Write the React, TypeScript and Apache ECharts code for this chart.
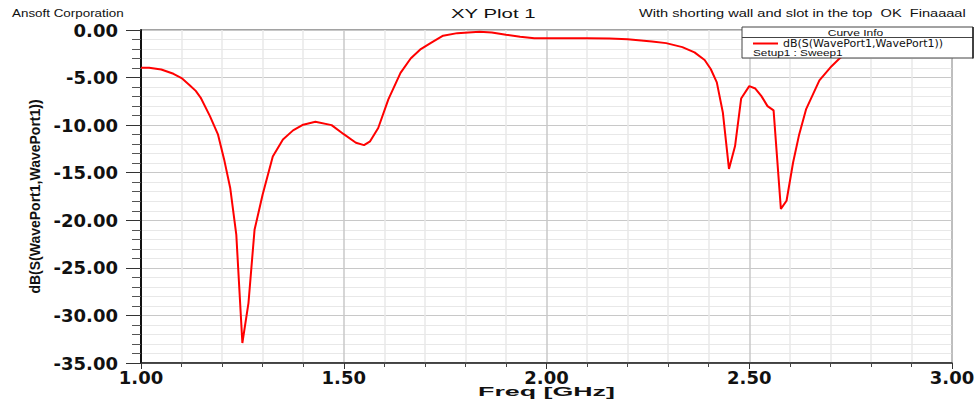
import React, { useEffect, useRef } from "react";
import * as echarts from "echarts";

// Frequency sweep points (GHz) and return loss (dB)
const freqGHz = [
  1.0, 1.02, 1.05, 1.08, 1.1, 1.12, 1.135, 1.147, 1.17, 1.19, 1.205, 1.22, 1.235,
  1.25, 1.265, 1.28, 1.3, 1.325, 1.35, 1.375, 1.4, 1.43, 1.47, 1.5, 1.53, 1.55,
  1.565, 1.585, 1.61, 1.64, 1.665, 1.69, 1.715, 1.745, 1.78, 1.835, 1.865, 1.9,
  1.935, 1.97, 2.02, 2.1, 2.155, 2.2, 2.26, 2.295, 2.335, 2.365, 2.39, 2.405,
  2.42, 2.435, 2.45, 2.465, 2.48, 2.5, 2.515, 2.53, 2.545, 2.56, 2.578, 2.592,
  2.608, 2.623, 2.64, 2.673, 2.703, 2.725, 2.75, 2.8, 2.85, 2.9, 2.95, 3.0,
];
const s11dB = [
  -3.97, -3.97, -4.15, -4.6, -5.05, -5.8, -6.4, -7.1, -9.05, -11.0, -13.6, -16.6,
  -21.5, -32.9, -28.7, -21.0, -17.3, -13.3, -11.5, -10.55, -9.95, -9.65, -10.0,
  -10.95, -11.85, -12.1, -11.7, -10.3, -7.3, -4.5, -3.0, -2.0, -1.35, -0.6,
  -0.33, -0.19, -0.26, -0.5, -0.71, -0.86, -0.86, -0.86, -0.89, -0.96, -1.2,
  -1.38, -1.8, -2.35, -3.15, -4.1, -5.5, -8.7, -14.6, -12.2, -7.2, -5.9, -6.15,
  -6.95, -8.0, -8.45, -18.8, -17.95, -13.95, -11.0, -8.35, -5.3, -3.8, -2.9,
  -2.2, -1.5, -1.1, -0.9, -0.8, -0.8,
];

const seriesName = "dB(S(WavePort1,WavePort1))";
const plotTitle = "XY Plot 1";
const companyText = "Ansoft Corporation";
const noteText = "With shorting wall and slot in the top  OK  Finaaaal";
const xAxisName = "Freq [GHz]";
const legendHeader = "Curve Info";
const legendSetup = "Setup1 : Sweep1";

const SANS = "Liberation Sans";

export default function App() {
  const ref = useRef<HTMLDivElement>(null);

  useEffect(() => {
    if (!ref.current) return;
    const chart = echarts.init(ref.current, null, { renderer: "svg" });

    const txt = (
      text: string,
      x: number,
      y: number,
      size: number,
      scaleX: number,
      align: string,
      bold = false
    ) => ({
      type: "text",
      x,
      y,
      scaleX,
      scaleY: 1,
      z: 6,
      style: {
        text,
        x: 0,
        y: 0,
        fill: "#111",
        font: `${bold ? "bold " : ""}${size}px "${SANS}"`,
        textAlign: align,
        align,
        textVerticalAlign: "middle",
        verticalAlign: "middle",
      },
    });

    const option: any = {
      animation: false,
      backgroundColor: "#ffffff",
      grid: {
        left: 141,
        right: 27,
        top: 30,
        bottom: 40,
        show: true,
        borderColor: "#444",
        borderWidth: 1,
        backgroundColor: "transparent",
      },
      legend: {
        show: true,
        left: 753,
        top: 38,
        padding: 0,
        itemWidth: 25,
        itemHeight: 2,
        icon: "rect",
        selectedMode: false,
        z: 6,
        data: [seriesName],
        textStyle: { fontFamily: "DejaVu Sans", fontSize: 11, color: "#111" },
      },
      xAxis: {
        type: "value",
        min: 1,
        max: 3,
        interval: 0.5,
        axisLine: { show: true, onZero: false, lineStyle: { color: "#222", width: 1.5 } },
        axisTick: { show: true, length: 6, lineStyle: { color: "#333" } },
        minorTick: { show: true, splitNumber: 5, length: 4, lineStyle: { color: "#444" } },
        splitLine: { show: true, lineStyle: { color: "#c8c8c8", width: 1.5 } },
        minorSplitLine: { show: true, lineStyle: { color: "#e8e8e8", width: 1.5 } },
        axisLabel: {
          formatter: (v: number) => v.toFixed(2),
          margin: 5,
          fontFamily: "DejaVu Sans",
          fontWeight: "bold",
          fontSize: 18,
          color: "#111",
        },
      },
      yAxis: {
        type: "value",
        min: -35,
        max: 0,
        interval: 5,
        name: seriesName,
        nameLocation: "middle",
        nameRotate: 90,
        nameGap: 99,
        nameTextStyle: { fontFamily: SANS, fontWeight: "bold", fontSize: 14, color: "#111" },
        axisLine: { show: true, onZero: false, lineStyle: { color: "#111", width: 2 } },
        axisTick: { show: true, length: 15, lineStyle: { color: "#333" } },
        minorTick: { show: true, splitNumber: 5, length: 9, lineStyle: { color: "#555" } },
        splitLine: { show: true, lineStyle: { color: "#c8c8c8", width: 1 } },
        minorSplitLine: { show: true, lineStyle: { color: "#e8e8e8", width: 1 } },
        axisLabel: {
          formatter: (v: number) => v.toFixed(2),
          margin: 23,
          fontFamily: "DejaVu Sans",
          fontWeight: "bold",
          fontSize: 18,
          color: "#111",
        },
      },
      graphic: [
        {
          type: "rect",
          z: 3,
          shape: { x: 742, y: 27, width: 231, height: 31 },
          style: { fill: "#ffffff", stroke: "#444", lineWidth: 1 },
        },
        {
          type: "line",
          z: 5,
          shape: { x1: 742, y1: 37.5, x2: 973, y2: 37.5 },
          style: { stroke: "#444", lineWidth: 1 },
        },
        {
          type: "line",
          z: 5,
          shape: { x1: 973, y1: 27, x2: 973, y2: 58.5 },
          style: { stroke: "#222", lineWidth: 1.5 },
        },
        txt(legendHeader, 855.5, 32.5, 9, 1.34, "center"),
        txt(legendSetup, 753, 52.7, 9, 1.31, "left"),
        txt(companyText, 12, 14, 10, 1.34, "left"),
        txt(plotTitle, 451, 14, 12, 1.7, "left"),
        txt(noteText, 639, 13.5, 10, 1.46, "left"),
        txt(xAxisName, 546.5, 391, 13, 2.06, "center", true),
      ],
      series: [
        {
          type: "line",
          name: seriesName,
          data: freqGHz.map((f, i) => [f, s11dB[i]]),
          showSymbol: false,
          symbol: "none",
          z: 2,
          lineStyle: { color: "#ff0000", width: 2 },
          itemStyle: { color: "#ff0000" },
        },
      ],
    };

    chart.setOption(option);
    return () => chart.dispose();
  }, []);

  return (
    <div
      ref={ref}
      style={{ position: "absolute", left: 0, top: 0, width: 979, height: 403, background: "#fff" }}
    />
  );
}
